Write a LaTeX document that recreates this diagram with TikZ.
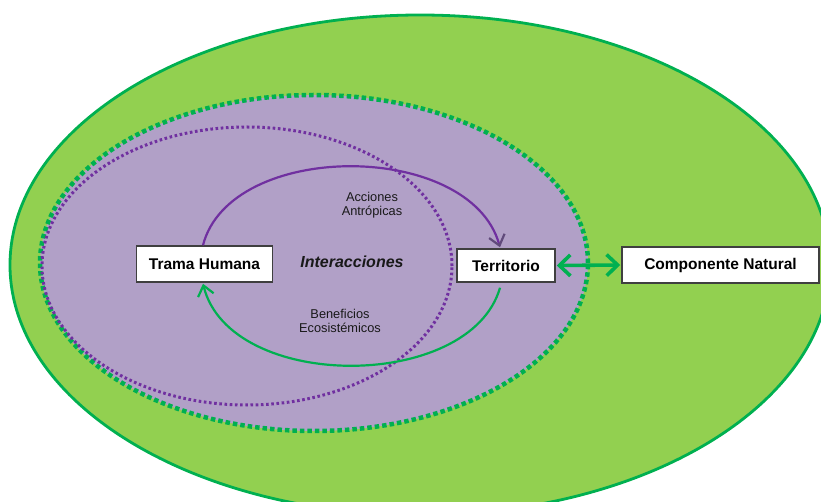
\documentclass[tikz,border=0pt]{standalone}
\usepackage{fontspec}
\setmainfont{Liberation Sans}
\usetikzlibrary{arrows.meta}
\definecolor{leaf}{HTML}{92D050}
\definecolor{deepgreen}{HTML}{00B050}
\definecolor{lav}{HTML}{B1A0C7}
\definecolor{plum}{HTML}{7030A0}
\definecolor{plumgray}{HTML}{604A7B}
\definecolor{boxedge}{HTML}{3F3F3F}
\tikzset{
  box/.style={draw=boxedge, line width=1.5pt, fill=white, inner sep=0pt, font=\fontsize{15.5}{18}\selectfont\bfseries},
  smalltxt/.style={align=center, font=\fontsize{12.8}{14.5}\selectfont, text=black!90},
  arc/.style={line width=2.2pt},
  chev/.tip={Straight Barb[length=10pt,width=16pt,line width=2.2pt]},
  pchev/.tip={Straight Barb[length=10pt,width=16pt,line width=2.2pt,color=plumgray]},
  bigchev/.tip={Straight Barb[length=11pt,width=21pt,line width=3.6pt]},
}
\begin{document}
\begin{tikzpicture}[x=1pt,y=-1pt]
\useasboundingbox (0,0) rectangle (821,502);
\clip (0,0) rectangle (821,502);
\fill[white] (0,0) rectangle (821,502);
% outer ellipse
\draw[deepgreen, fill=leaf, line width=2.8pt] (420,265) ellipse [x radius=410pt, y radius=250pt];
% inner ellipse (green dotted)
\fill[lav] (314,263) ellipse [x radius=274pt, y radius=168pt];
\draw[deepgreen, line width=4.5pt, dash pattern=on 4.5pt off 3pt] (314,263) ellipse [x radius=274pt, y radius=168pt];
% purple dotted ellipse
\draw[plum, line width=3pt, dash pattern=on 2.6pt off 2.6pt] (247,266) ellipse [x radius=205pt, y radius=139pt];
% nodes
\node[box, minimum width=136pt, minimum height=36pt] (trama) at (204.5,264) {Trama Humana};
\node[box, minimum width=98pt, minimum height=33pt] (terr) at (506,265.5) {Territorio};
\node[box, minimum width=197pt, minimum height=36pt] (comp) at (720.5,265) {Componente Natural};
\node[font=\fontsize{16}{18}\selectfont\bfseries\itshape, text=black!90] (inter) at (352,262) {Interacciones};
\node[smalltxt] (acc) at (372,205) {Acciones\\Antrópicas};
\node[smalltxt] (ben) at (340,321) {Beneficios\\Ecosistémicos};
% coordinates on boxes
\coordinate (tTop) at ([xshift=-1.5pt]trama.north);
\coordinate (tBot) at ([xshift=-1.5pt,yshift=-1pt]trama.south);
\coordinate (rTop) at ([xshift=-6pt,yshift=1pt]terr.north);
\coordinate (rBot) at ([xshift=-6pt,yshift=-5pt]terr.south);
% arcs
\draw[arc, plum, -{pchev}] (tTop) .. controls (230,140) and (470,140) .. (rTop);
\draw[arc, deepgreen, -{chev}] (rBot) .. controls (470,392) and (230,392) .. (tBot);
% double arrow
\draw[deepgreen, line width=3.6pt, {bigchev}-{bigchev}] ([xshift=1pt]terr.east) -- ([xshift=-1pt]comp.west);
\end{tikzpicture}
\end{document}
